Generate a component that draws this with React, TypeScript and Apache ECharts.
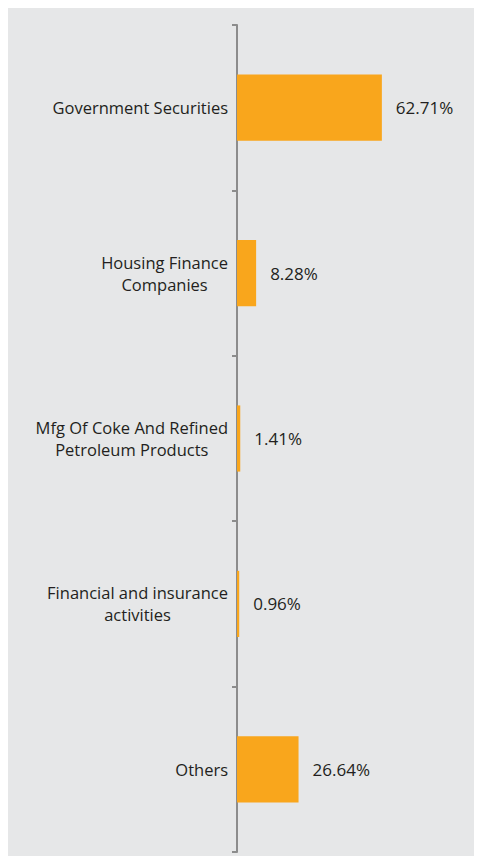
import React, { useEffect, useRef } from "react";
import * as echarts from "echarts";

const categories = [
  "Government Securities",
  "Housing Finance\nCompanies",
  "Mfg Of Coke And Refined\nPetroleum Products",
  "Financial and insurance\nactivities",
  "Others",
];
const values = [62.71, 8.28, 1.41, 0.96, 26.64];

export default function App() {
  const ref = useRef<HTMLDivElement>(null);
  useEffect(() => {
    if (!ref.current) return;
    const chart = echarts.init(ref.current, null, { renderer: "svg" });
    const font = "'Open Sans', 'Noto Sans', sans-serif";
    chart.setOption({
      animation: false,
      backgroundColor: "#e6e7e8",
      grid: { left: 229, top: 17, bottom: 4, width: 231, containLabel: false },
      xAxis: {
        type: "value",
        min: 0,
        max: 100,
        show: false,
      },
      yAxis: {
        type: "category",
        inverse: true,
        data: categories,
        axisLine: { show: true, lineStyle: { color: "#8c8c8c", width: 2 } },
        axisTick: { show: true, length: 5, lineStyle: { color: "#8c8c8c", width: 2 } },
        axisLabel: {
          margin: 9,
          formatter: (v: string) =>
            v
              .split("\n")
              .map((l) => "{c|" + l + "}")
              .join("\n"),
          rich: {
            c: {
              align: "center",
              fontFamily: font,
              fontSize: 16.5,
              color: "#231f20",
              lineHeight: 22,
            },
          },
        },
        splitLine: { show: false },
      },
      series: [
        {
          type: "bar",
          data: values,
          barWidth: "40%",
          itemStyle: { color: "#f9a61c" },
          label: {
            show: true,
            position: "right",
            distance: 14,
            formatter: (p: any) => p.value.toFixed(2) + "%",
            fontFamily: font,
            fontSize: 17,
            color: "#231f20",
          },
        },
      ],
    });
    return () => chart.dispose();
  }, []);
  return <div ref={ref} style={{ width: 470, height: 848 }} />;
}
